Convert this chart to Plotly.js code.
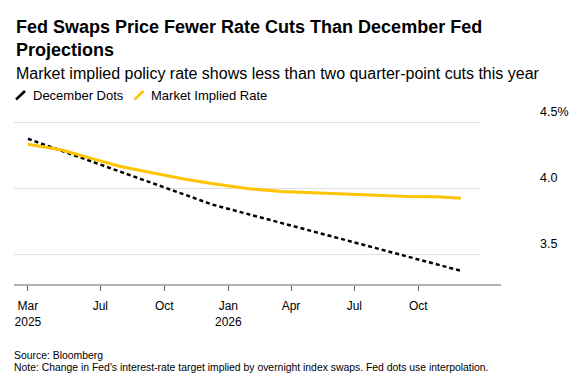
<!DOCTYPE html>
<html>
<head>
<meta charset="utf-8">
<script src="https://cdn.plot.ly/plotly-3.0.1.min.js"></script>
<style>html,body{margin:0;padding:0;background:#fff;}#chart{width:582px;height:387px;}</style>
</head>
<body>
<div id="chart"></div>
<script>
// ---- Data ----
const dotsDates = ["2025-03-19", "2025-12-10", "2026-12-01"];
const dotsValues = [4.375, 3.875, 3.375];

const marketDates = ["2025-03-19", "2025-05-07", "2025-06-18", "2025-07-30", "2025-09-17", "2025-10-29", "2025-12-10",
                     "2026-01-28", "2026-03-18", "2026-04-29", "2026-06-17", "2026-07-29", "2026-09-16", "2026-10-28", "2026-12-01"];
const marketValues = [4.333, 4.29, 4.227, 4.165, 4.114, 4.07, 4.035,
                      3.998, 3.976, 3.966, 3.955, 3.944, 3.938, 3.936, 3.925];

const xTickVals = ["2025-03-19", "2025-07-01", "2025-10-01", "2026-01-01", "2026-04-01", "2026-07-01", "2026-10-01"];
const xTickText = ["Mar<br>2025", "Jul", "Oct", "Jan<br>2026", "Apr", "Jul", "Oct"];
const yTickVals = [3.5, 4.0, 4.5];
const yTickText = ["3.5", "4.0", "4.5%"];

const seriesNames = ["December Dots", "Market Implied Rate"];
const titleText = "Fed Swaps Price Fewer Rate Cuts Than December Fed<br>Projections";
const subtitleText = "Market implied policy rate shows less than two quarter-point cuts this year";
const sourceText = "Source: Bloomberg";
const noteText = "Note: Change in Fed's interest-rate target implied by overnight index swaps. Fed dots use interpolation.";

// ---- Layout helpers (pixel -> paper) ----
const W = 582, H = 387;
const M = {l: 14, r: 101, t: 118, b: 102};
const PW = W - M.l - M.r, PH = H - M.t - M.b;
const px = x => (x - M.l) / PW;
const py = y => (H - M.b - y) / PH;

const FONT = "Liberation Sans, Arial, sans-serif";
const YELLOW = "#ffc400";

const traces = [
  {x: dotsDates, y: dotsValues, type: "scatter", mode: "lines", name: seriesNames[0],
   line: {color: "#000", width: 2.5, dash: "4px,3px"}, hoverinfo: "skip"},
  {x: marketDates, y: marketValues, type: "scatter", mode: "lines", name: seriesNames[1],
   line: {color: YELLOW, width: 3}, hoverinfo: "skip"}
];

const layout = {
  width: W, height: H,
  margin: M,
  paper_bgcolor: "#fff", plot_bgcolor: "#fff",
  showlegend: false,
  font: {family: FONT, color: "#000", size: 12},
  xaxis: {
    type: "date",
    range: ["2025-02-27", "2026-12-30"],
    tickvals: xTickVals, ticktext: xTickText,
    ticks: "outside", ticklen: 5, tickcolor: "#666", tickwidth: 1,
    ticklabelstandoff: 5,
    showgrid: false, showline: false, zeroline: false,
    tickfont: {family: FONT, size: 12, color: "#000"}
  },
  yaxis: {
    side: "right",
    range: [3.267, 4.5326],
    tickvals: yTickVals, ticktext: yTickText,
    ticks: "", showline: false, zeroline: false,
    showgrid: true, gridcolor: "#e0e0e0", gridwidth: 1.2,
    ticklabelshift: -11, ticklabelstandoff: 58,
    tickfont: {family: FONT, size: 12.5, color: "#000"}
  },
  shapes: [
    {type: "line", xref: "paper", yref: "paper", x0: 0, x1: px(501), y0: 0, y1: 0,
     line: {color: "#666", width: 1}},
    {type: "line", xref: "paper", yref: "paper", x0: px(16), y0: py(99.5), x1: px(25), y1: py(91),
     line: {color: "#000", width: 2.5}},
    {type: "line", xref: "paper", yref: "paper", x0: px(134.5), y0: py(99.5), x1: px(143.5), y1: py(91),
     line: {color: YELLOW, width: 2.5}}
  ],
  annotations: [
    {text: "<b>" + titleText + "</b>", xref: "paper", yref: "paper", x: px(14), y: py(39),
     xanchor: "left", yanchor: "middle", align: "left", showarrow: false,
     font: {family: FONT, size: 18, color: "#000"}},
    {text: subtitleText, xref: "paper", yref: "paper", x: px(14), y: py(73),
     xanchor: "left", yanchor: "middle", align: "left", showarrow: false,
     font: {family: FONT, size: 16, color: "#000"}},
    {text: seriesNames[0], xref: "paper", yref: "paper", x: px(31), y: py(95.5),
     xanchor: "left", yanchor: "middle", showarrow: false,
     font: {family: FONT, size: 13, color: "#000"}},
    {text: seriesNames[1], xref: "paper", yref: "paper", x: px(149), y: py(95.5),
     xanchor: "left", yanchor: "middle", showarrow: false,
     font: {family: FONT, size: 13, color: "#000"}},
    {text: sourceText, xref: "paper", yref: "paper", x: px(12), y: py(355),
     xanchor: "left", yanchor: "middle", showarrow: false,
     font: {family: FONT, size: 10.4, color: "#000"}},
    {text: noteText, xref: "paper", yref: "paper", x: px(12), y: py(367),
     xanchor: "left", yanchor: "middle", showarrow: false,
     font: {family: FONT, size: 10.4, color: "#000"}}
  ]
};

Plotly.newPlot("chart", traces, layout, {staticPlot: true, displayModeBar: false});
</script>
</body>
</html>
